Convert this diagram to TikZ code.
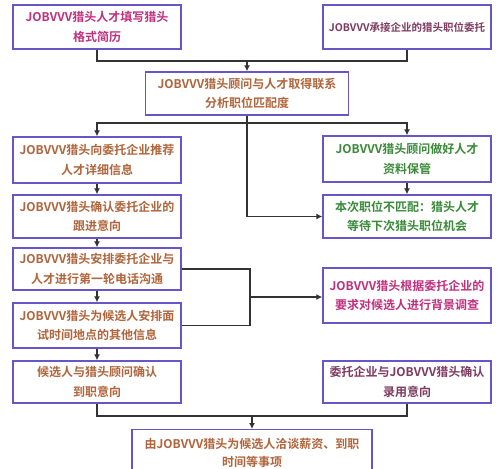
\documentclass[tikz,border=0pt]{standalone}
\usepackage{fontspec}
\setmainfont{Noto Sans CJK SC}[BoldFont={Noto Sans CJK SC Bold}]
\usetikzlibrary{arrows.meta}
\definecolor{bord}{HTML}{6656C8}
\definecolor{brn}{HTML}{B0653C}
\definecolor{mag}{HTML}{C0307F}
\definecolor{grn}{HTML}{3A8A3A}
\definecolor{mar}{HTML}{7E3A62}
\definecolor{lin}{HTML}{333333}
\tikzset{
  box/.style={draw=bord, line width=1.3pt, fill=white, minimum width=168pt, align=center,
    inner sep=2pt, font=\fontsize{12}{19.5}\selectfont\bfseries},
  conn/.style={draw=lin, line width=1.2pt},
  arr/.style={conn, -{Latex[length=6pt,width=6pt]}}
}
\begin{document}
\begin{tikzpicture}[x=1pt,y=-1pt]
\clip (0,0) rectangle (500,468);
\fill[white] (0,0) rectangle (500,468);
\node[box, minimum height=44pt, text=mag] (b1) at (97,27) {JOBVVV猎头人才填写猎头\\格式简历};
\node[box, minimum height=44pt, text=mar, font=\fontsize{10.5}{19}\selectfont\bfseries] (b2) at (407,27) {JOBVVV承接企业的猎头职位委托};
\node[box, minimum width=203pt, minimum height=43pt, text=brn] (b3) at (247,93.5) {JOBVVV猎头顾问与人才取得联系\\分析职位匹配度};
\node[box, minimum height=46pt, text=brn] (b4) at (97,160) {JOBVVV猎头向委托企业推荐\\人才详细信息};
\node[box, minimum height=43pt, text=brn] (b5) at (97,216.5) {JOBVVV猎头确认委托企业的\\跟进意向};
\node[box, minimum height=42pt, text=brn] (b6) at (97,269) {JOBVVV猎头安排委托企业与\\人才进行第一轮电话沟通};
\node[box, minimum height=45pt, text=brn] (b7) at (97,325.5) {JOBVVV猎头为候选人安排面\\试时间地点的其他信息};
\node[box, minimum height=42pt, text=brn] (b8) at (97,382) {候选人与猎头顾问确认\\到职意向};
\node[box, minimum height=46pt, text=grn] (g1) at (407,159) {JOBVVV猎头顾问做好人才\\资料保管};
\node[box, minimum height=43pt, text=grn] (g2) at (407,216.5) {本次职位不匹配：猎头人才\\等待下次猎头职位机会};
\node[box, minimum height=55pt, text=mag] (m) at (407,295.5) {JOBVVV猎头根据委托企业的\\要求对候选人进行背景调查};
\node[box, minimum height=42pt, text=mar] (r8) at (407,382) {委托企业与JOBVVV猎头确认\\录用意向};
\node[box, minimum width=240pt, minimum height=46pt, text=brn, anchor=north, font=\fontsize{12}{18}\selectfont\bfseries] (b9) at (252,429) {由JOBVVV猎头为候选人洽谈薪资、到职\\时间等事项};
\coordinate (j1) at (247,61);
\coordinate (j2) at (247,123);
\coordinate (j3) at (250,297);
\coordinate (j4) at (252,416);
\draw[conn] (b1.south) |- (j1);
\draw[conn] (b2.south) |- (j1);
\draw[arr] (j1) -- (b3.north);
\draw[conn] (b3.south) -- (j2);
\draw[arr] (j2) -| (b4.north);
\draw[arr] (j2) -| (g1.north);
\draw[arr] (j2) |- (g2.west);
\draw[arr] (b4) -- (b5);
\draw[arr] (b5) -- (b6);
\draw[arr] (b6) -- (b7);
\draw[arr] (b7) -- (b8);
\draw[arr] (g1) -- (g2);
\draw[conn] (b6.east) -| (j3);
\draw[conn] (b7.east) -| (j3);
\draw[arr] (j3) -- (j3 -| m.west);
\draw[conn] (b8.south) |- (j4);
\draw[conn] (r8.south) |- (j4);
\draw[arr] (j4) -- (b9.north);
\end{tikzpicture}
\end{document}
